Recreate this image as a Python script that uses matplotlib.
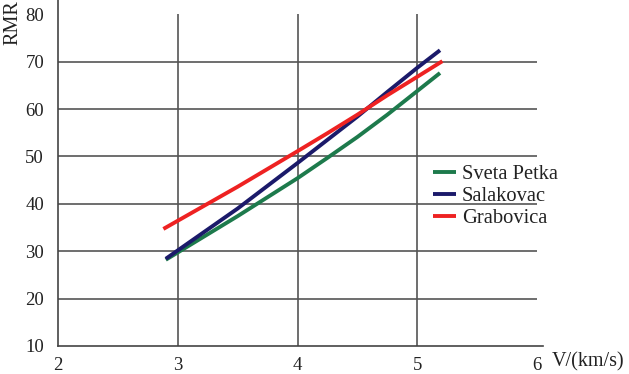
import matplotlib
matplotlib.use("Agg")
import matplotlib.pyplot as plt

plt.rcParams['font.family'] = ['Liberation Serif', 'DejaVu Serif']

# Data
v_sveta = [2.9, 3.5, 4.0, 4.25, 4.5, 4.75, 5.0, 5.19]
rmr_sveta = [28.2, 37.4, 45.4, 49.7, 54.1, 58.8, 63.8, 67.6]
v_sala = [2.9, 3.5, 4.0, 4.25, 4.5, 4.75, 5.0, 5.19]
rmr_sala = [28.4, 39.0, 48.6, 53.5, 58.4, 63.6, 68.7, 72.4]
v_grab = [2.88, 3.5, 4.0, 4.25, 4.5, 4.75, 5.0, 5.21]
rmr_grab = [34.7, 43.6, 51.1, 54.9, 58.8, 62.9, 66.8, 70.1]

series_names = ["Sveta Petka", "Salakovac", "Grabovica"]
series_colors = ["#1d7a4c", "#1b1a6a", "#ee2222"]

x_ticks = [2, 3, 4, 5, 6]
y_ticks = [10, 20, 30, 40, 50, 60, 70, 80]
x_grid = [3, 4, 5]
y_grid = [20, 30, 40, 50, 60, 70]

fig = plt.figure(figsize=(6.29, 3.74), dpi=100)
ax = fig.add_axes([58/629, 1-346/374, (543-58)/629, 346/374])

ax.set_xlim(2, 6.05)
ax.set_ylim(10, 83)

grid_col = "#555555"
ax.vlines(x_grid, 10, 80, color=grid_col, lw=1.2, zorder=1)
ax.hlines(y_grid, 2, 6, color=grid_col, lw=1.2, zorder=1)

for xs, ys, name, col in zip([v_sveta, v_sala, v_grab],
                             [rmr_sveta, rmr_sala, rmr_grab],
                             series_names, series_colors):
    ax.plot(xs, ys, color=col, lw=2.8, label=name, solid_capstyle='butt',
            solid_joinstyle='round', zorder=3)

for s in ['top', 'right']:
    ax.spines[s].set_visible(False)
for s in ['left', 'bottom']:
    ax.spines[s].set_color("#444444")
    ax.spines[s].set_linewidth(1.2)

ax.set_xticks(x_ticks)
ax.set_yticks(y_ticks)
ax.tick_params(axis='both', length=0, labelsize=13.5, colors='#222222')
ax.tick_params(axis='y', pad=10)
ax.tick_params(axis='x', pad=8)
ax.set_xticks([2], minor=True)
ax.set_yticks([10], minor=True)
ax.tick_params(axis='x', which='minor', length=4, width=1.2, color='#444444')
ax.tick_params(axis='y', which='minor', length=8, width=1.2, color='#444444')

fig.text(13/629, 1-23/374, "RMR", rotation=90, ha='center', va='center', fontsize=14.5, color='#222222')
fig.text(552/629, 1-362/374, "V/(km/s)", ha='left', va='center', fontsize=14.5, color='#222222')

leg = ax.legend(loc='upper left', bbox_to_anchor=(433/629, 1-165/374),
                bbox_transform=fig.transFigure, frameon=False, fontsize=14.8,
                handlelength=1.1, handletextpad=0.3, labelspacing=0.12,
                borderpad=0, borderaxespad=0)
for t in leg.get_texts():
    t.set_color('#222222')

fig.savefig("out.png", dpi=100)
